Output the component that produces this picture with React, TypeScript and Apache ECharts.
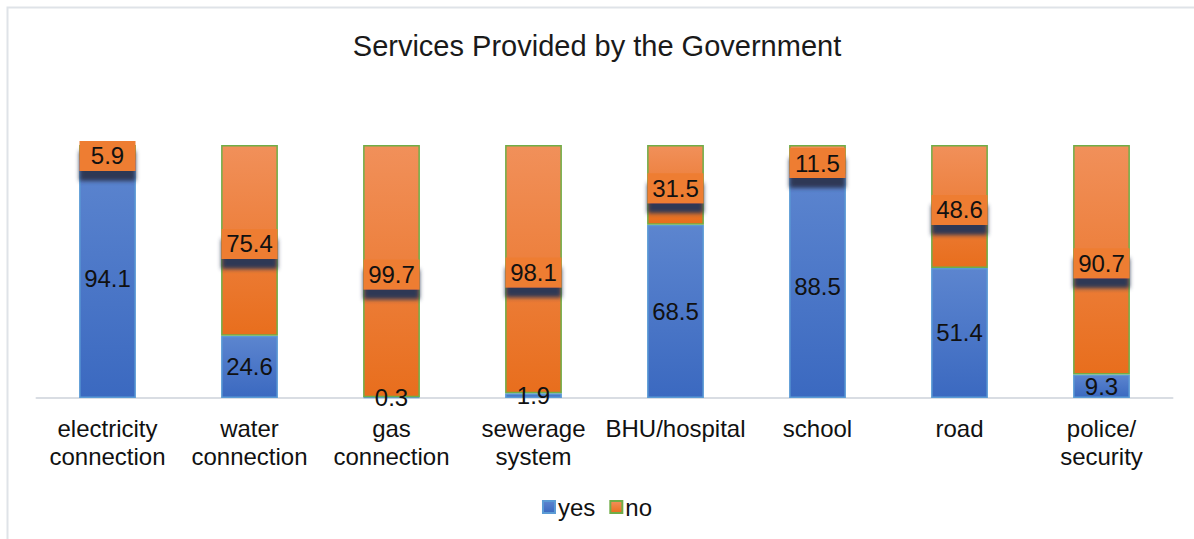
import React, { useEffect, useRef } from "react";
import * as echarts from "echarts";

const categories = [
  "electricity\nconnection",
  "water\nconnection",
  "gas\nconnection",
  "sewerage\nsystem",
  "BHU/hospital",
  "school",
  "road",
  "police/\nsecurity",
];
const yesValues = [94.1, 24.6, 0.3, 1.9, 68.5, 88.5, 51.4, 9.3];
const noValues = [5.9, 75.4, 99.7, 98.1, 31.5, 11.5, 48.6, 90.7];
const seriesNames = ["yes", "no"];

const FONT = "'Liberation Sans', Arial, sans-serif";

export default function App() {
  const ref = useRef<HTMLDivElement>(null);
  useEffect(() => {
    document.body.style.margin = "0";
    const chart = echarts.init(ref.current!, null, { renderer: "svg" });
    const blueGrad = new echarts.graphic.LinearGradient(0, 0, 0, 1, [
      { offset: 0, color: "#5c85cf" },
      { offset: 1, color: "#3b69c0" },
    ]);
    const orangeGrad = new echarts.graphic.LinearGradient(0, 0, 0, 1, [
      { offset: 0, color: "#f1905a" },
      { offset: 1, color: "#e86e1d" },
    ]);
    chart.setOption({
      animation: false,
      backgroundColor: "#ffffff",
      textStyle: { fontFamily: FONT },
      graphic: [
        {
          type: "rect",
          shape: { x: 7.5, y: 7.5, width: 1300, height: 700 },
          style: { fill: "none", stroke: "#dfe3e8", lineWidth: 2 },
          silent: true,
        },
      ],
      title: {
        text: "Services Provided by the Government",
        left: "center",
        top: 31,
        padding: 0,
        textStyle: {
          fontFamily: FONT,
          fontSize: 29,
          fontWeight: "normal",
          color: "#1a1a1a",
        },
      },
      legend: {
        data: seriesNames,
        top: 495,
        left: "center",
        padding: 0,
        icon: "rect",
        itemWidth: 12,
        itemHeight: 12,
        itemGap: 14,
        textStyle: { fontFamily: FONT, fontSize: 24, color: "#111", padding: [0, 0, 0, -2] },
      },
      grid: { left: 36.5, right: 21.5, top: 145, bottom: 141, containLabel: false },
      xAxis: {
        type: "category",
        data: categories,
        axisLine: { lineStyle: { color: "#d9dde3", width: 2 } },
        axisTick: { show: false },
        axisLabel: {
          fontFamily: FONT,
          fontSize: 24,
          lineHeight: 28,
          color: "#111",
          margin: 16,
          interval: 0,
        },
      },
      yAxis: {
        type: "value",
        min: 0,
        max: 100,
        show: false,
        splitLine: { show: false },
      },
      series: [
        {
          name: seriesNames[0],
          type: "bar",
          stack: "total",
          barWidth: "40%",
          data: yesValues,
          itemStyle: { color: blueGrad, borderColor: "#5b9bd5", borderWidth: 1.5 },
          label: {
            show: true,
            position: "inside",
            fontFamily: FONT,
            fontSize: 24,
            color: "#111",
          },
        },
        {
          name: seriesNames[1],
          type: "bar",
          stack: "total",
          barWidth: "40%",
          data: noValues,
          itemStyle: { color: orangeGrad, borderColor: "#70ad47", borderWidth: 1.5 },
          label: {
            show: true,
            position: "inside",
            offset: [0, 3.5],
            fontFamily: FONT,
            fontSize: 24,
            lineHeight: 26,
            color: "#111",
            width: 56,
            align: "center",
            backgroundColor: "#ee7d30",
            padding: [1, 0, 3, 0],
            shadowColor: "rgba(45,55,85,1)",
            shadowBlur: 4,
            shadowOffsetY: 10,
          },
        },
      ],
    });
    return () => chart.dispose();
  }, []);
  return <div ref={ref} style={{ width: 1194, height: 539 }} />;
}
